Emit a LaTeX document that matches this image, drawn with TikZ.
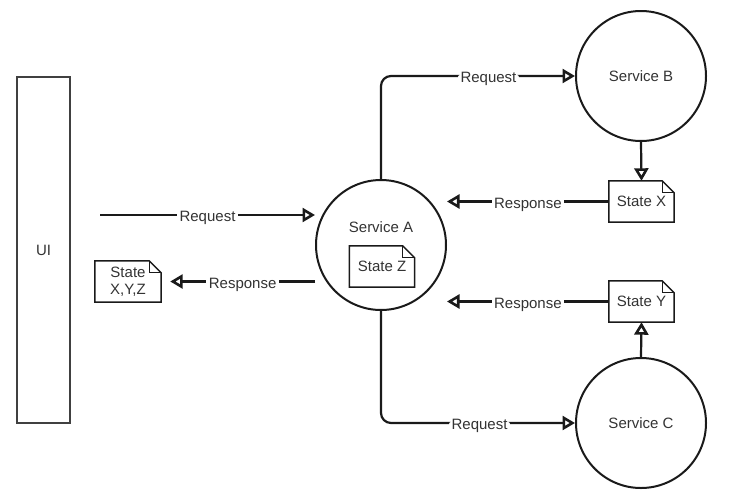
\documentclass[tikz,border=0pt]{standalone}
\usepackage{fontspec}
\setmainfont{Liberation Sans}
\usetikzlibrary{arrows.meta}
\definecolor{ink}{HTML}{1A1A1A}
\definecolor{txt}{HTML}{333333}
\newcommand\drawnote[1]{%
  \draw[noteline] (#1.south west) -- (#1.north west) -- ([xshift=-12pt]#1.north east)
    -- ([yshift=-12pt]#1.north east) -- (#1.south east) -- cycle;
  \draw[noteline,line width=1.1pt] ([xshift=-12pt]#1.north east) -- ([xshift=-12pt,yshift=-12pt]#1.north east)
    -- ([yshift=-12pt]#1.north east);}
\begin{document}
\begin{tikzpicture}[x=1pt,y=-1pt,
  lab/.style={font=\fontsize{15}{17}\selectfont, text=txt},
  svc/.style={circle, draw=ink, line width=2pt, minimum size=130pt, inner sep=0pt},
  notebox/.style={rectangle, minimum width=65pt, minimum height=41pt, inner sep=0pt, align=center, lab},
  noteline/.style={draw=ink, line width=1.5pt, line join=miter},
  conn/.style={draw=ink, line width=2.2pt},
  arr/.style={conn, -{Triangle[open, length=12.5pt, width=14pt, fill=white, line width=2.6pt]}},
  lbl/.style={lab, fill=white, inner sep=2.5pt, yshift=-1.5pt, text depth=0pt}]
\useasboundingbox (0,0) rectangle (742,496);

% UI box
\node[draw=black!75, line width=2pt, minimum width=53pt, minimum height=346pt, inner sep=0pt, lab] (ui) at (43.5,250) {UI};

% services
\node[svc] (sa) at (381,245) {};
\node[lab] (salabel) at (381,227) {Service A};
\node[svc, lab] (sb) at (641,76) {Service B};
\node[svc, lab] (sc) at (641,423) {Service C};

% notes
\node[notebox] (sz) at (382,266.5) {State Z};
\node[notebox] (sx) at (641.5,201.5) {State X};
\node[notebox] (sy) at (641.5,301.5) {State Y};
\node[notebox, minimum width=66pt] (sxyz) at (128,281.5) {State\\X,Y,Z};
\drawnote{sz}
\drawnote{sx}
\drawnote{sy}
\drawnote{sxyz}

% connectors
\coordinate (uiout) at (100,215);
\draw[arr] (uiout) -- node[lbl]{Request} (uiout -| sa.west);
\draw[arr] (sxyz.east -| sa.west) -- node[lbl]{Response} ([xshift=9pt]sxyz.east);
\draw[arr, rounded corners=10pt] (sa.north) |- node[lbl, pos=0.777]{Request} (sb.west);
\draw[arr] (sb.south) -- (sx.north);
\draw[arr] (sx.west) -- node[lbl]{Response} (sx.west -| sa.east);
\draw[arr] (sy.west) -- node[lbl]{Response} (sy.west -| sa.east);
\draw[arr] (sc.north) -- (sy.south);
\draw[arr, rounded corners=10pt] (sa.south) |- node[lbl, pos=0.754]{Request} (sc.west);
\end{tikzpicture}
\end{document}
